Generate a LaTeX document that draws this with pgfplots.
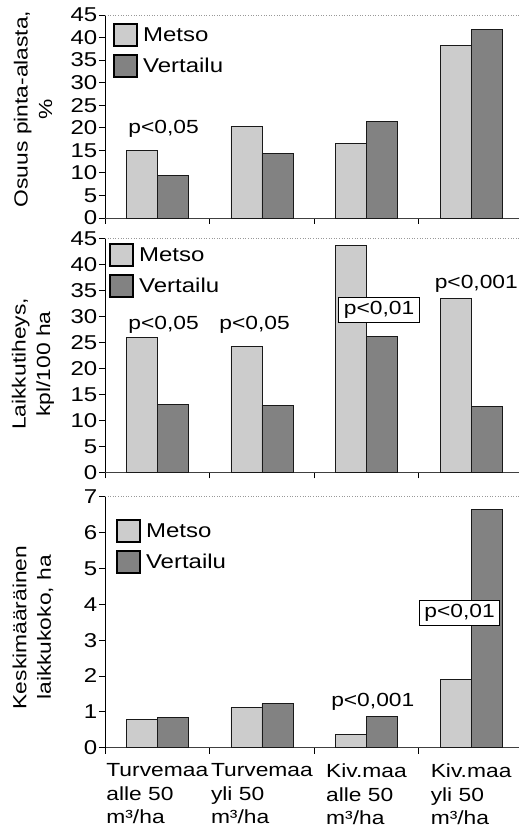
\documentclass[border=0pt]{standalone}
\usepackage{fontspec}
\setmainfont{Liberation Sans}[FakeStretch=1.2]
\usepackage{pgfplots}
\pgfplotsset{compat=1.18}
\definecolor{metso}{gray}{0.80}
\definecolor{vert}{gray}{0.51}
\newcommand{\fs}{\fontsize{19}{24.5}\selectfont}
\newcommand{\ft}{\fontsize{20}{24.5}\selectfont}
\newcommand{\fc}{\fontsize{19}{23.5}\selectfont}
\newcommand{\fl}{\fontsize{20}{24}\selectfont}
\tikzset{
  plab/.style={font=\fs, anchor=base},
  pbox/.style={font=\fs, draw=black, fill=white, line width=0.8pt, inner xsep=5pt, inner ysep=4pt},
}
\pgfplotsset{
  panel/.style={
    scale only axis, width=418.4pt, xmin=-0.5, xmax=3.5, ymin=0,
    axis x line*=bottom, axis y line*=left,
    ybar=0pt, bar width=31pt,
    xtick={-0.5,0.5,1.5,2.5,3.5}, xticklabels={},
    tick align=outside, major tick length=6pt,
    y axis line style={black, line width=0.8pt},
    x axis line style={black!75, line width=0.8pt},
    tick style={black, line width=0.8pt},
    ticklabel style={font=\ft},
    yticklabel style={inner xsep=1.5pt},
    /pgf/number format/assume math mode=true,
    clip=false,
    ylabel style={align=center, font=\fs, anchor=center},
    legend style={draw=none, fill=none, font=\fl, anchor=north west,
      inner sep=0pt, row sep=7.5pt, column sep=0pt, cells={anchor=west}},
    legend cell align=left,
  },
  mybar/.style={draw=black!90, line width=0.8pt, fill=#1,
    legend image code/.code={\draw[draw=black, fill=#1, line width=1.6pt] (0pt,-11pt) rectangle (23pt,11pt);}},
}
\begin{document}
\begin{tikzpicture}
\useasboundingbox (0,0) rectangle (519pt,830pt);
% Panel 1
\begin{axis}[panel, at={(105pt,612pt)}, anchor=south west, height=203pt,
  ymax=45, ytick={0,5,...,45},
  ylabel={Osuus pinta-alasta,\\\%},
  ylabel style={at={(axis description cs:-0.172,0.537)}},
  legend style={at={(axis description cs:0.019,0.961)}}]
\addplot[mybar=metso] coordinates {(0,15.0) (1,20.3) (2,16.6) (3,38.2)};
\addplot[mybar=vert] coordinates {(0,9.4) (1,14.3) (2,21.4) (3,41.7)};
\legend{\,Metso,\,Vertailu}
\draw[black!40, dotted, line width=0.6pt] (rel axis cs:0,1) -- (rel axis cs:1,1);
\node[plab] at (axis cs:0.06,18.8) {p<0,05};
\end{axis}
% Panel 2
\begin{axis}[panel, at={(105pt,357.7pt)}, anchor=south west, height=234pt,
  ymax=45, ytick={0,5,...,45},
  ylabel={Laikkutiheys,\\kpl/100 ha},
  ylabel style={at={(axis description cs:-0.172,0.463)}},
  legend style={at={(axis description cs:0.0096,0.98)}}]
\addplot[mybar=metso] coordinates {(0,25.9) (1,24.2) (2,43.6) (3,33.4)};
\addplot[mybar=vert] coordinates {(0,13.0) (1,12.9) (2,26.2) (3,12.7)};
\legend{\,Metso,\,Vertailu}
\draw[black!40, dotted, line width=0.6pt] (rel axis cs:0,1) -- (rel axis cs:1,1);
\node[plab] at (axis cs:0.06,27.5) {p<0,05};
\node[plab] at (axis cs:0.93,27.5) {p<0,05};
\node[pbox] at (axis cs:2.12,31.2) {p<0,01};
\node[plab] at (axis cs:3.05,35.4) {p<0,001};
\end{axis}
% Panel 3
\begin{axis}[panel, at={(105pt,82.3pt)}, anchor=south west, height=251pt,
  ymax=7, ytick={0,1,...,7},
  ylabel={Keskimääräinen\\laikkukoko, ha},
  ylabel style={at={(axis description cs:-0.172,0.479)}},
  legend style={at={(axis description cs:0.026,0.911)}},
  extra x ticks={0,1,2,3},
  extra x tick labels={{Turvemaa\\alle 50\\m³/ha},{Turvemaa\\yli 50\\m³/ha},{Kiv.maa\\alle 50\\m³/ha},{Kiv.maa\\yli 50\\m³/ha}},
  extra x tick style={major tick length=0pt, tick style={draw=none},
    xticklabel style={align=left, font=\fc, anchor=north, inner ysep=0pt, yshift=-16pt}}]
\addplot[mybar=metso] coordinates {(0,0.79) (1,1.12) (2,0.38) (3,1.91)};
\addplot[mybar=vert] coordinates {(0,0.85) (1,1.23) (2,0.86) (3,6.64)};
\legend{\,Metso,\,Vertailu}
\draw[black!40, dotted, line width=0.6pt] (rel axis cs:0,1) -- (rel axis cs:1,1);
\node[plab] at (axis cs:2.06,1.14) {p<0,001};
\node[pbox] at (axis cs:2.89,3.75) {p<0,01};
\end{axis}
\end{tikzpicture}
\end{document}
